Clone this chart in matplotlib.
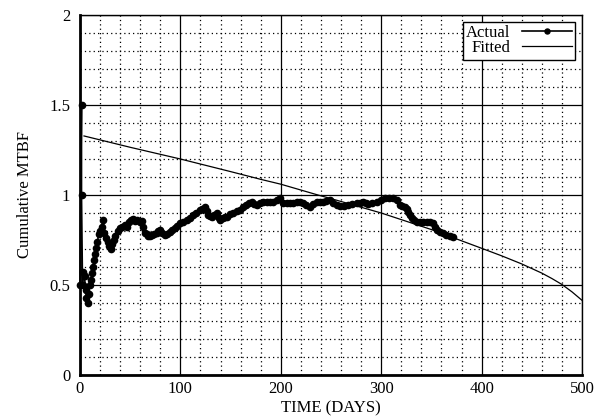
import matplotlib
matplotlib.use("Agg")
import matplotlib.pyplot as plt
from matplotlib.ticker import MultipleLocator, FuncFormatter

plt.rcParams['font.family'] = ['Liberation Serif', 'DejaVu Serif']

actual_x = [0, 1.5, 1.5, 2.5, 3.3, 4.5, 5.5, 6.3, 7.6, 8.5, 9.5, 11, 12, 13.3, 14.3, 15.3,
            16.3, 17.4, 18.6, 19.9, 21.5, 23.0, 24.2, 26, 27.6, 29.2, 30.5, 32, 33.5, 35.2,
            37.5, 40, 42, 44.5, 47, 49, 51, 53, 55, 57, 59.8, 61.5, 63, 64.7, 66.5, 68,
            69.7, 72, 74, 76.4, 78, 79.7, 82, 84.7, 87, 89.6, 92, 94.6, 97, 99.6, 103,
            106.3, 109.5, 112.9, 116, 119.5, 122, 124.5, 126, 127.8, 129.5, 131.2, 133.5,
            136.2, 138, 139.4, 142, 144, 146.1, 149.4, 152.7, 156, 159.4, 162.6, 165.5,
            168, 171, 173.5, 176, 179, 182.6, 186, 189, 192.5, 196, 199.2, 202.5, 206,
            209, 212.5, 216, 219.1, 222, 225.5, 229.1, 232.5, 235.8, 239, 242.3, 245.5,
            249, 252.3, 255.5, 259, 263, 267.2, 271, 275.6, 279, 282.2, 285, 287.2, 291,
            295.5, 299.5, 303.8, 308, 312, 315.4, 318.7, 321, 323.7, 325.5, 327, 328.7,
            330.4, 332.5, 335.4, 338.5, 342, 345.3, 348.5, 351.9, 353.5, 355.3, 358.5,
            361.9, 365, 368.5, 371.8]
actual_y = [0.50, 1.50, 1.00, 0.50, 0.57, 0.55, 0.47, 0.43, 0.40, 0.45, 0.50, 0.53, 0.565,
            0.60, 0.64, 0.675, 0.705, 0.74, 0.785, 0.80, 0.825, 0.86, 0.79, 0.76, 0.74,
            0.715, 0.70, 0.73, 0.75, 0.77, 0.80, 0.815, 0.825, 0.835, 0.82, 0.85, 0.86,
            0.865, 0.855, 0.86, 0.852, 0.855, 0.82, 0.79, 0.785, 0.775, 0.775, 0.78, 0.785,
            0.787, 0.80, 0.806, 0.79, 0.778, 0.785, 0.796, 0.805, 0.815, 0.83, 0.843, 0.85,
            0.861, 0.875, 0.889, 0.90, 0.917, 0.925, 0.935, 0.91, 0.889, 0.882, 0.88, 0.89,
            0.898, 0.875, 0.861, 0.87, 0.878, 0.88, 0.895, 0.898, 0.912, 0.917, 0.935,
            0.945, 0.955, 0.963, 0.95, 0.944, 0.955, 0.963, 0.96, 0.962, 0.963, 0.97,
            0.981, 0.954, 0.955, 0.957, 0.957, 0.96, 0.963, 0.955, 0.945, 0.935, 0.95,
            0.963, 0.963, 0.963, 0.968, 0.972, 0.954, 0.945, 0.937, 0.94, 0.947, 0.95,
            0.954, 0.958, 0.963, 0.955, 0.95, 0.956, 0.963, 0.972, 0.981, 0.984, 0.986,
            0.972, 0.944, 0.94, 0.935, 0.92, 0.907, 0.888, 0.87, 0.86, 0.852, 0.852, 0.852,
            0.852, 0.848, 0.843, 0.825, 0.806, 0.795, 0.787, 0.78, 0.77, 0.765]

fitted_x = [4, 50, 100, 150, 180, 200, 237, 250, 300, 350, 400, 420, 440, 460, 470, 480,
            490, 500]
fitted_y = [1.328, 1.265, 1.20, 1.13, 1.087, 1.06, 1.0, 0.98, 0.90, 0.808, 0.704, 0.662,
            0.617, 0.566, 0.536, 0.503, 0.462, 0.415]

xticks = [0, 100, 200, 300, 400, 500]
yticks = [0, 0.5, 1, 1.5, 2]

fig = plt.figure(figsize=(6.01, 4.2), dpi=100)
ax = fig.add_axes([80/601, 45/420, 502/601, 360/420])

ax.set_xlim(0, 500)
ax.set_ylim(0, 2)
ax.set_xticks(xticks)
ax.set_yticks(yticks)
ax.xaxis.set_minor_locator(MultipleLocator(20))
ax.yaxis.set_minor_locator(MultipleLocator(0.1))
ax.yaxis.set_major_formatter(FuncFormatter(lambda v, p: f"{v:g}"))
ax.grid(which='major', color='black', linewidth=0.9, linestyle='-')
ax.grid(which='minor', color='black', linewidth=0.9, linestyle=(0, (1, 2.5)))
ax.set_axisbelow(True)
ax.tick_params(which='both', length=0, labelsize=12)
ax.tick_params(axis='x', pad=4)
ax.tick_params(axis='y', pad=7)

for s in ax.spines.values():
    s.set_linewidth(1.0)
    s.set_color('black')
ax.spines['bottom'].set_linewidth(2.0)
ax.spines['left'].set_linewidth(2.0)

ax.plot(actual_x, actual_y, color='black', linewidth=1.2, marker='o',
        markersize=4.5, label='Actual', clip_on=False, zorder=3)
ax.plot(fitted_x, fitted_y, color='black', linewidth=0.9, label='Fitted', zorder=3)

leg = ax.legend(loc='upper right', markerfirst=False, fancybox=False, framealpha=1,
                edgecolor='black', fontsize=12, handlelength=3.0, borderpad=0.2,
                labelspacing=-0.05, handletextpad=0.7, borderaxespad=0.4, markerscale=0.8)
leg.get_frame().set_linewidth(1.0)
for t in leg.get_texts():
    t.set_ha('right')

ax.set_xlabel('TIME (DAYS)', fontsize=12, labelpad=3)
ax.set_ylabel('Cumulative MTBF', fontsize=12, labelpad=12)

fig.savefig('out.png', dpi=100)
